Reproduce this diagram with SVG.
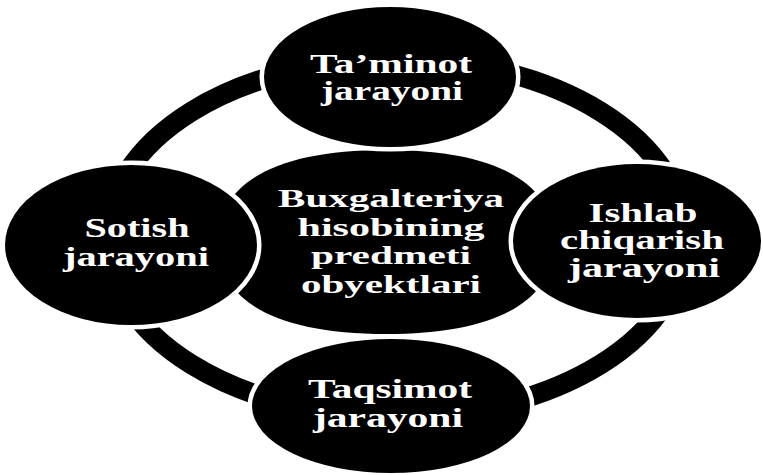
<svg xmlns="http://www.w3.org/2000/svg" width="763" height="475" viewBox="0 0 763 475">
  <style>
    .bg { fill: #ffffff; }
    .ring { fill: none; stroke: #000000; stroke-width: 20; }
    .node { fill: #000000; stroke: #ffffff; stroke-width: 9; paint-order: stroke; }
    .core { fill: #000000; }
    .label { fill: #ffffff; font-family: "Liberation Serif", "Times New Roman", serif; font-weight: bold; font-size: 27px; text-anchor: middle; }
    .core-label { font-size: 25.5px; }
  </style>
  <rect class="bg" x="0" y="0" width="763" height="475"/>

  <!-- cycle ring linking the four processes -->
  <g id="connectors">
    <ellipse class="ring" cx="396" cy="238" rx="289" ry="179"/>
  </g>

  <!-- central subject -->
  <g id="node-center">
    <path class="core" d="M554,242 C554,302 495,334 386,334 C277,334 218,302 218,242 C218,182 277,150 386,150 C495,150 554,182 554,242 Z"/>
    <text class="label core-label" x="391" y="207" textLength="226" lengthAdjust="spacingAndGlyphs">Buxgalteriya</text>
    <text class="label core-label" x="391" y="236" textLength="187" lengthAdjust="spacingAndGlyphs">hisobining</text>
    <text class="label core-label" x="391" y="264" textLength="160" lengthAdjust="spacingAndGlyphs">predmeti</text>
    <text class="label core-label" x="391" y="293" textLength="180" lengthAdjust="spacingAndGlyphs">obyektlari</text>
  </g>

  <g id="node-supply">
    <ellipse class="node" cx="390" cy="77" rx="126" ry="70"/>
    <text class="label" x="391" y="73" textLength="162" lengthAdjust="spacingAndGlyphs">Ta’minot</text>
    <text class="label" x="392" y="100" textLength="142" lengthAdjust="spacingAndGlyphs">jarayoni</text>
  </g>

  <g id="node-sales">
    <ellipse class="node" cx="131" cy="245" rx="126" ry="80"/>
    <text class="label" x="137" y="237" textLength="105" lengthAdjust="spacingAndGlyphs">Sotish</text>
    <text class="label" x="136" y="266" textLength="146" lengthAdjust="spacingAndGlyphs">jarayoni</text>
  </g>

  <g id="node-production">
    <ellipse class="node" cx="637" cy="241" rx="124" ry="77"/>
    <text class="label" x="643" y="222" textLength="109" lengthAdjust="spacingAndGlyphs">Ishlab</text>
    <text class="label" x="642" y="249" textLength="164" lengthAdjust="spacingAndGlyphs">chiqarish</text>
    <text class="label" x="644" y="277" textLength="152" lengthAdjust="spacingAndGlyphs">jarayoni</text>
  </g>

  <g id="node-distribution">
    <ellipse class="node" cx="391" cy="406" rx="139" ry="67"/>
    <text class="label" x="390" y="398" textLength="164" lengthAdjust="spacingAndGlyphs">Taqsimot</text>
    <text class="label" x="388" y="427" textLength="150" lengthAdjust="spacingAndGlyphs">jarayoni</text>
  </g>
</svg>
